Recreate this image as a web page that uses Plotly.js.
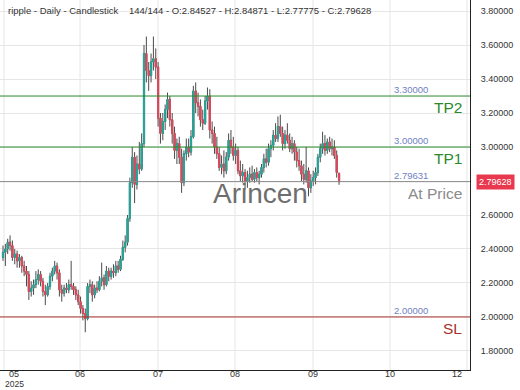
<!DOCTYPE html>
<html>
<head>
<meta charset="utf-8">
<script src="https://cdn.plot.ly/plotly-3.0.1.min.js"></script>
<style>html,body{margin:0;padding:0;background:#fff;}#chart{width:520px;height:390px;}</style>
</head>
<body>
<div id="chart"></div>
<script>
const dates = [
'2025-05-19','2025-05-20','2025-05-21','2025-05-22','2025-05-23','2025-05-24','2025-05-25','2025-05-26','2025-05-27','2025-05-28','2025-05-29','2025-05-30','2025-05-31',
'2025-06-01','2025-06-02','2025-06-03','2025-06-04','2025-06-05','2025-06-06','2025-06-07','2025-06-08','2025-06-09','2025-06-10','2025-06-11','2025-06-12','2025-06-13','2025-06-14','2025-06-15','2025-06-16','2025-06-17','2025-06-18','2025-06-19','2025-06-20','2025-06-21','2025-06-22','2025-06-23','2025-06-24','2025-06-25','2025-06-26','2025-06-27','2025-06-28','2025-06-29','2025-06-30',
'2025-07-01','2025-07-02','2025-07-03','2025-07-04','2025-07-05','2025-07-06','2025-07-07','2025-07-08','2025-07-09','2025-07-10','2025-07-11','2025-07-12','2025-07-13','2025-07-14','2025-07-15','2025-07-16','2025-07-17','2025-07-18','2025-07-19','2025-07-20','2025-07-21','2025-07-22','2025-07-23','2025-07-24','2025-07-25','2025-07-26','2025-07-27','2025-07-28','2025-07-29','2025-07-30','2025-07-31',
'2025-08-01','2025-08-02','2025-08-03','2025-08-04','2025-08-05','2025-08-06','2025-08-07','2025-08-08','2025-08-09','2025-08-10','2025-08-11','2025-08-12','2025-08-13','2025-08-14','2025-08-15','2025-08-16','2025-08-17','2025-08-18','2025-08-19','2025-08-20','2025-08-21','2025-08-22','2025-08-23','2025-08-24','2025-08-25','2025-08-26','2025-08-27','2025-08-28','2025-08-29','2025-08-30','2025-08-31',
'2025-09-01','2025-09-02','2025-09-03','2025-09-04','2025-09-05','2025-09-06','2025-09-07','2025-09-08','2025-09-09','2025-09-10','2025-09-11','2025-09-12','2025-09-13','2025-09-14','2025-09-15','2025-09-16','2025-09-17','2025-09-18','2025-09-19','2025-09-20','2025-09-21','2025-09-22','2025-09-23','2025-09-24','2025-09-25','2025-09-26','2025-09-27','2025-09-28','2025-09-29','2025-09-30',
'2025-10-01','2025-10-02','2025-10-03','2025-10-04','2025-10-05','2025-10-06','2025-10-07','2025-10-08','2025-10-09'
];

const openP = [
2.35,2.38,2.40,2.44,2.42,2.35,2.37,2.33,2.35,2.30,2.27,2.25,2.15,
2.17,2.19,2.22,2.25,2.21,2.15,2.13,2.18,2.24,2.27,2.30,2.26,2.16,2.14,2.17,2.16,2.19,2.18,2.16,2.13,2.09,2.05,2.02,1.99,2.18,2.19,2.13,2.17,2.16,2.21,
2.23,2.19,2.27,2.24,2.27,2.26,2.30,2.28,2.34,2.41,2.44,2.58,2.79,2.94,2.78,2.90,2.87,3.02,3.55,3.45,3.42,3.50,3.52,3.47,3.17,3.08,3.15,3.22,3.28,3.16,
3.08,2.98,3.02,2.94,2.79,2.96,3.00,2.97,3.06,3.33,3.26,3.24,3.16,3.14,3.27,3.30,3.10,3.08,3.00,2.96,2.88,2.90,2.86,2.94,3.04,3.00,2.95,2.98,2.86,
2.83,2.85,2.80,2.82,2.84,2.81,2.85,2.82,2.84,2.88,2.93,2.91,2.99,3.01,3.07,3.05,3.12,3.08,3.02,3.07,3.04,2.99,3.02,2.97,2.92,2.89,2.84,2.81,2.86,
2.76,2.80,2.82,2.85,2.94,2.99,3.02,2.98,3.03,2.99,3.00,2.95,2.84527
];
const highP = [
2.42,2.43,2.46,2.48,2.45,2.40,2.39,2.37,2.36,2.33,2.30,2.27,2.21,
2.22,2.27,2.28,2.27,2.23,2.19,2.20,2.26,2.29,2.33,2.32,2.28,2.19,2.19,2.20,2.22,2.33,2.20,2.18,2.16,2.12,2.07,2.05,2.20,2.22,2.21,2.19,2.21,2.24,2.32,
2.25,2.30,2.29,2.29,2.31,2.33,2.33,2.36,2.45,2.48,2.60,2.82,3.00,2.97,2.95,3.03,3.08,3.60,3.65,3.50,3.55,3.65,3.58,3.50,3.20,3.20,3.25,3.32,3.30,3.20,
3.12,3.05,3.06,2.99,2.98,3.05,3.05,3.10,3.36,3.38,3.32,3.28,3.22,3.30,3.35,3.34,3.15,3.12,3.06,3.00,2.95,2.98,2.97,3.08,3.10,3.06,3.02,3.00,2.92,
2.90,2.87,2.86,2.88,2.89,2.87,2.88,2.86,2.90,2.96,2.99,3.02,3.04,3.10,3.14,3.18,3.19,3.12,3.10,3.14,3.08,3.06,3.04,3.00,2.99,2.92,2.90,3.00,2.88,
2.84,2.86,2.88,2.96,3.02,3.09,3.07,3.05,3.06,3.05,3.04,2.98,2.84871
];
const lowP = [
2.33,2.30,2.37,2.39,2.33,2.31,2.29,2.29,2.26,2.24,2.18,2.10,2.12,
2.13,2.17,2.19,2.18,2.12,2.07,2.12,2.16,2.21,2.25,2.22,2.12,2.09,2.12,2.14,2.14,2.16,2.13,2.10,2.07,2.02,1.98,1.91,1.98,2.14,2.09,2.11,2.14,2.15,2.18,
2.16,2.18,2.21,2.22,2.23,2.24,2.26,2.27,2.33,2.38,2.42,2.56,2.76,2.67,2.75,2.84,2.86,3.00,3.38,3.33,3.38,3.45,3.40,3.12,3.02,3.04,3.10,3.17,3.12,3.02,
2.93,2.90,2.90,2.73,2.77,2.92,2.94,2.95,3.05,3.20,3.18,3.12,3.10,3.13,3.22,3.05,3.02,2.96,2.93,2.86,2.84,2.82,2.84,2.92,2.96,2.92,2.90,2.84,2.80,
2.79,2.75,2.76,2.79,2.80,2.79,2.80,2.78,2.82,2.85,2.88,2.89,2.94,2.98,3.03,3.03,3.06,2.98,2.99,3.02,2.97,2.96,2.92,2.88,2.86,2.80,2.78,2.79,2.71,
2.73,2.77,2.78,2.83,2.91,2.96,2.95,2.96,2.97,2.95,2.93,2.82,2.77775
];
const closeP = [
2.38,2.40,2.44,2.42,2.35,2.37,2.33,2.35,2.30,2.27,2.25,2.15,2.17,
2.19,2.22,2.25,2.21,2.15,2.13,2.18,2.24,2.27,2.30,2.26,2.16,2.14,2.17,2.16,2.19,2.18,2.16,2.13,2.09,2.05,2.02,1.99,2.18,2.19,2.13,2.17,2.16,2.21,2.23,
2.19,2.27,2.24,2.27,2.26,2.30,2.28,2.34,2.41,2.44,2.58,2.79,2.94,2.78,2.90,2.87,3.02,3.55,3.45,3.42,3.50,3.52,3.47,3.17,3.08,3.15,3.22,3.28,3.16,3.08,
2.98,3.02,2.94,2.79,2.96,3.00,2.97,3.06,3.33,3.26,3.24,3.16,3.14,3.27,3.30,3.10,3.08,3.00,2.96,2.88,2.90,2.86,2.94,3.04,3.00,2.95,2.98,2.86,2.83,
2.85,2.80,2.82,2.84,2.81,2.85,2.82,2.84,2.88,2.93,2.91,2.99,3.01,3.07,3.05,3.12,3.08,3.02,3.07,3.04,2.99,3.02,2.97,2.92,2.89,2.84,2.81,2.86,2.76,
2.80,2.82,2.85,2.94,2.99,3.02,2.98,3.03,2.99,3.00,2.95,2.85,2.79628
];

const levelNames = ['TP2', 'TP1', 'At Price', 'SL'];
const levelValues = [3.30000, 3.00000, 2.79631, 2.00000];
const lastPrice = 2.79628;
const titleText = 'ripple - Daily - Candlestick\u00a0\u00a0\u00a0\u00a0144/144 - O:2.84527 - H:2.84871 - L:2.77775 - C:2.79628';
const monthGridDates = ['2025-05-19 10:09','2025-06-20 18:21','2025-07-23 22:57','2025-08-25 17:21','2025-09-27 21:57','2025-10-30 16:21','2025-12-02 10:39'];
const monthLabelDates = ['2025-05-23 16:21','2025-06-20 18:21','2025-07-23 22:57','2025-08-25 17:21','2025-09-27 21:57','2025-10-30 16:21','2025-11-28 04:39'];
const monthLabels = ['05','06','07','08','09','10','12'];
const yearLabel = '2025';
const yTicks = [1.8, 2.0, 2.2, 2.4, 2.6, 2.8, 3.0, 3.2, 3.4, 3.6, 3.8];

const levelColors = ['#2a8a2a', '#2a8a2a', '#8a8a8a', '#a8322d'];
const upColor = '#26a69a', downColor = '#df4a5c', wickColor = '#4a4a4a';
const FONT = 'Liberation Sans, Arial, sans-serif';
const xRange = ['2025-05-17 17:21', '2025-12-03 17:21'];
const yRange = [1.688, 3.865];
const bodyWidth = 0.75 * 86400000;

// body-only arrays so coloured bodies cover dark wick outlines
const bodyHigh = openP.map((o, i) => Math.max(o, closeP[i]));
const bodyLow = openP.map((o, i) => Math.min(o, closeP[i]));

const wicks = {
  type: 'candlestick', x: dates, open: openP, high: highP, low: lowP, close: closeP,
  increasing: {line: {color: wickColor, width: 1}, fillcolor: wickColor},
  decreasing: {line: {color: wickColor, width: 1}, fillcolor: wickColor},
  width: bodyWidth, whiskerwidth: 0, showlegend: false, hoverinfo: 'skip'
};
const bodies = {
  type: 'candlestick', x: dates, open: openP, high: bodyHigh, low: bodyLow, close: closeP,
  increasing: {line: {color: upColor, width: 1}, fillcolor: upColor},
  decreasing: {line: {color: downColor, width: 1}, fillcolor: downColor},
  width: bodyWidth, whiskerwidth: 0, showlegend: false, hoverinfo: 'skip'
};

// vertical month grid lines (the reference's labels sit off the grid at both ends)
const shapes = monthGridDates.map(d => ({
  type: 'line', xref: 'x', x0: d, x1: d, yref: 'paper', y0: 0, y1: 1,
  line: {color: '#e6e6e6', width: 1}, layer: 'below'
}));
levelValues.forEach((v, i) => shapes.push({
  type: 'line', xref: 'paper', x0: 0, x1: 1, yref: 'y', y0: v, y1: v,
  line: {color: levelColors[i], width: 1}, layer: 'above'
}));

const annotations = [];
levelValues.forEach((v, i) => {
  annotations.push({
    xref: 'paper', x: 430 / 470, xanchor: 'right', yref: 'y', y: v, yanchor: 'bottom',
    text: v.toFixed(5), showarrow: false, font: {family: FONT, size: 9.5, color: '#6f7fc4'}, yshift: -1
  });
  annotations.push({
    xref: 'paper', x: 464 / 470, xanchor: 'right', yref: 'y', y: v, yanchor: 'top',
    text: levelNames[i], showarrow: false, font: {family: FONT, size: 15.5, color: levelColors[i]}, yshift: -1
  });
});
annotations.push({
  xref: 'paper', x: 260 / 470, xanchor: 'center', yref: 'paper', y: (370 - 193) / 370, yanchor: 'middle',
  text: 'Arincen', showarrow: false, font: {family: FONT, size: 28, color: '#6e6e6e'}
});
annotations.push({
  xref: 'paper', x: 476 / 470, xanchor: 'left', yref: 'y', y: lastPrice, yanchor: 'middle',
  text: lastPrice.toFixed(5), showarrow: false, bgcolor: '#e8394e', borderpad: 2,
  font: {family: FONT, size: 9, color: '#ffffff'}
});
annotations.push({
  xref: 'x', x: monthLabelDates[0], xanchor: 'center', yref: 'paper', y: -(390 - 370) / 370, yanchor: 'bottom',
  text: yearLabel, showarrow: false, borderpad: 0, font: {family: FONT, size: 8.5, color: '#333333'}
});

const layout = {
  width: 520, height: 390,
  margin: {l: 0, r: 50, t: 0, b: 20, pad: 0},
  paper_bgcolor: '#ffffff', plot_bgcolor: '#ffffff',
  showlegend: false, hovermode: false,
  title: {text: titleText, x: 8 / 520, xanchor: 'left', xref: 'container', y: 1 - 11 / 390, yanchor: 'middle', yref: 'container',
          font: {family: FONT, size: 9.5, color: '#333333'}},
  xaxis: {
    type: 'date', range: xRange, rangeslider: {visible: false},
    tickmode: 'array', tickvals: monthLabelDates, ticktext: monthLabels,
    showgrid: false, zeroline: false,
    showline: true, linecolor: '#222222', linewidth: 1, ticks: '', ticklabelstandoff: -5,
    tickfont: {family: FONT, size: 9, color: '#333333'}, fixedrange: true
  },
  yaxis: {
    side: 'right', range: yRange, tickmode: 'array', tickvals: yTicks,
    ticktext: yTicks.map(v => Math.abs(v - lastPrice) < 0.05 ? '' : v.toFixed(5)),
    showgrid: true, gridcolor: '#e6e6e6', gridwidth: 1, zeroline: false,
    showline: true, linecolor: '#222222', linewidth: 1, ticks: '', ticklabelstandoff: 8,
    tickfont: {family: FONT, size: 9, color: '#333333'}, fixedrange: true
  },
  shapes: shapes,
  annotations: annotations
};

Plotly.newPlot('chart', [wicks, bodies], layout, {displayModeBar: false, staticPlot: true});
</script>
</body>
</html>
